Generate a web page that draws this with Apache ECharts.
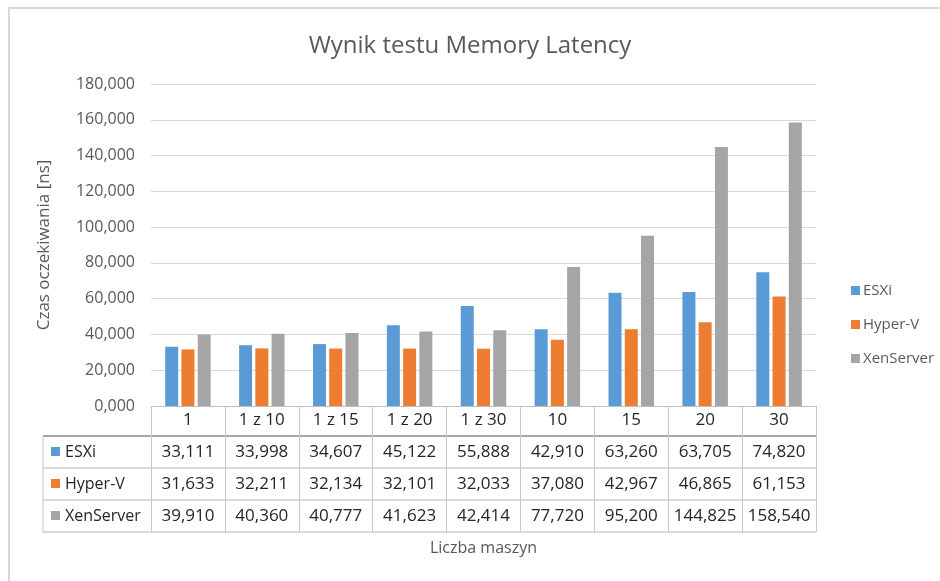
<!DOCTYPE html>
<html>
<head>
<meta charset="utf-8">
<script src="https://cdn.jsdelivr.net/npm/echarts@6/dist/echarts.min.js"></script>
<style>
  html, body { margin: 0; padding: 0; background: #fff; }
  #chart { width: 940px; height: 581px; }
</style>
</head>
<body>
<div id="chart"></div>
<script>
// dane z wykresu
var categories = ['1', '1 z 10', '1 z 15', '1 z 20', '1 z 30', '10', '15', '20', '30']
var seriesNames = ['ESXi', 'Hyper-V', 'XenServer']
var esxi = [33.111, 33.998, 34.607, 45.122, 55.888, 42.910, 63.260, 63.705, 74.820]
var hyperV = [31.633, 32.211, 32.134, 32.101, 32.033, 37.080, 42.967, 46.865, 61.153]
var xenServer = [39.910, 40.360, 40.777, 41.623, 42.414, 77.720, 95.200, 144.825, 158.540]
var colors = ['#5b9bd5', '#ed7d31', '#a5a5a5']

var FONT = '"Open Sans", "DejaVu Sans", sans-serif'
var fmt = function (v) { return v.toFixed(3).replace('.', ',') }

var chart = echarts.init(document.getElementById('chart'))
var allData = [esxi, hyperV, xenServer]

chart.setOption({
  animation: false,
  color: colors,
  textStyle: { fontFamily: FONT },
  title: {
    text: 'Wynik testu Memory Latency',
    left: 'center',
    top: 29,
    textStyle: { fontSize: 24, fontWeight: 'normal', color: '#595959', fontFamily: FONT }
  },
  legend: {
    orient: 'vertical',
    left: 846,
    top: 278,
    itemWidth: 9,
    itemHeight: 9,
    itemGap: 19,
    icon: 'rect',
    textStyle: { fontSize: 15, color: '#595959', padding: [0, 0, 0, -2] },
    data: seriesNames
  },
  grid: { left: 151, right: 124, top: 84, bottom: 175, containLabel: false },
  xAxis: {
    type: 'category',
    data: categories,
    name: 'Liczba maszyn',
    nameLocation: 'middle',
    nameGap: 134,
    nameTextStyle: { fontSize: 16, color: '#595959' },
    axisLine: { lineStyle: { color: '#bfbfbf', width: 1 } },
    axisTick: { show: true, length: 126, lineStyle: { color: '#c8c8c8' } },
    axisLabel: { margin: 6, fontSize: 17, color: '#262626', interval: 0 }
  },
  yAxis: {
    type: 'value',
    min: 0,
    max: 180,
    interval: 20,
    name: 'Czas oczekiwania [ns]',
    nameLocation: 'middle',
    nameGap: 98,
    nameTextStyle: { fontSize: 17, color: '#595959' },
    axisLine: { show: false },
    axisTick: { show: false },
    axisLabel: { fontSize: 16, color: '#595959', margin: 16, formatter: fmt },
    splitLine: { lineStyle: { color: '#d9d9d9', width: 1 } }
  },
  series: seriesNames.map(function (n, i) {
    return {
      name: n,
      type: 'bar',
      barWidth: 13,
      barGap: '25%',
      data: allData[i]
    }
  })
})

// tabela danych pod osią
function drawTable () {
  var x0 = chart.convertToPixel({ xAxisIndex: 0 }, 0)
  var x1 = chart.convertToPixel({ xAxisIndex: 0 }, 1)
  var band = x1 - x0
  var left = x0 - band / 2
  var right = left + band * categories.length
  var yAxis0 = chart.convertToPixel({ yAxisIndex: 0 }, 0)
  var rowH = 32
  var headerH = 30
  var tableLeft = 43
  var els = []
  var top = yAxis0 + headerH
  // poziome linie
  for (var r = 0; r <= seriesNames.length; r++) {
    var y = top + r * rowH
    els.push({
      type: 'line',
      shape: { x1: tableLeft, y1: y, x2: right, y2: y },
      style: { stroke: r === 0 ? '#a6a6a6' : '#b4b4b4', lineWidth: r === 0 ? 2 : 1 }
    })
  }
  // lewa krawędź
  els.push({
    type: 'line',
    shape: { x1: tableLeft, y1: top, x2: tableLeft, y2: top + rowH * seriesNames.length },
    style: { stroke: '#c8c8c8', lineWidth: 1 }
  })
  seriesNames.forEach(function (n, i) {
    var cy = top + i * rowH + rowH / 2
    els.push({
      type: 'rect',
      shape: { x: 51, y: cy - 5, width: 9, height: 9 },
      style: { fill: colors[i] }
    })
    els.push({
      type: 'text',
      style: { text: n, x: 65, y: cy, textVerticalAlign: 'middle', font: '16px ' + FONT, fill: '#262626' }
    })
    allData[i].forEach(function (v, j) {
      els.push({
        type: 'text',
        style: {
          text: fmt(v),
          x: left + band * j + band / 2,
          y: cy,
          textAlign: 'center',
          textVerticalAlign: 'middle',
          font: '17px ' + FONT,
          fill: '#262626'
        }
      })
    })
  })
  // ramka wykresu
  els.push({
    type: 'rect',
    shape: { x: 9, y: 8, width: 960, height: 600 },
    style: { fill: 'none', stroke: '#d9d9d9', lineWidth: 2 },
    z: -1
  })
  chart.setOption({ graphic: els })
}
drawTable()
</script>
</body>
</html>
